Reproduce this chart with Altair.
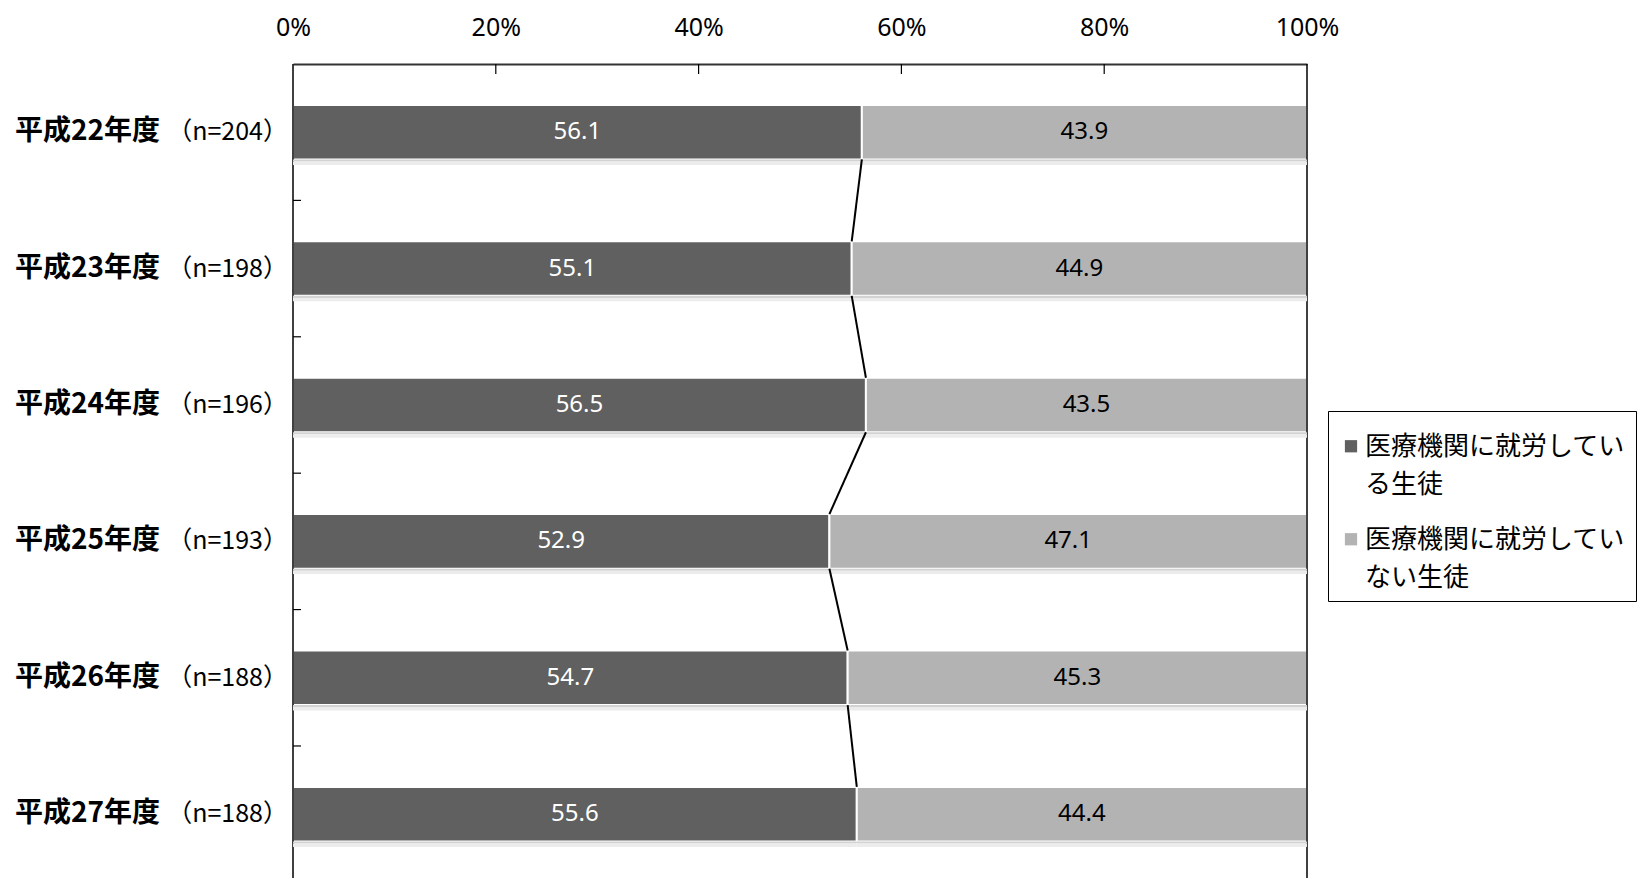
import altair as alt
import pandas as pd

categories = ["平成22年度", "平成23年度", "平成24年度", "平成25年度", "平成26年度", "平成27年度"]
n_labels = ["（n=204）", "（n=198）", "（n=196）", "（n=193）", "（n=188）", "（n=188）"]
working = [56.1, 55.1, 56.5, 52.9, 54.7, 55.6]
not_working = [43.9, 44.9, 43.5, 47.1, 45.3, 44.4]
series = ["医療機関に就労している生徒", "医療機関に就労していない生徒"]
x_ticks = [0, 20, 40, 60, 80, 100]

CJK = "Noto Sans CJK JP"
NUM = "Noto Sans"

rows = []
for i, c in enumerate(categories):
    rows.append(dict(cat=c, idx=i, series=series[0], sid=0, start=0, end=working[i], val=working[i]))
    rows.append(dict(cat=c, idx=i, series=series[1], sid=1, start=working[i], end=working[i] + not_working[i], val=not_working[i]))
bars_df = pd.DataFrame(rows)
bars_df["mid"] = (bars_df["start"] + bars_df["end"]) / 2

cat_df = pd.DataFrame(dict(cat=categories, n=n_labels, idx=list(range(len(categories)))))

conn_df = pd.DataFrame(dict(idx=list(range(len(working) - 1)), x=working[:-1], x2=working[1:]))

YMAX = 5.968
yscale = alt.Scale(domain=[0, YMAX], reverse=True, nice=False, zero=False)
xscale = alt.Scale(domain=[0, 100], nice=False)

base_bars = alt.Chart(bars_df).transform_calculate(
    ytop="datum.idx + 0.3", ybot="datum.idx + 0.7",
    sh1="datum.idx + 0.715", sh2="datum.idx + 0.74", yc="datum.idx + 0.5"
)

shadow1 = base_bars.mark_rect(color="#d2d2d2").encode(
    x=alt.X("start:Q", scale=xscale), x2="end:Q",
    y=alt.Y("ybot:Q", scale=yscale), y2="sh1:Q",
)
shadow2 = base_bars.mark_rect(color="#ececec").encode(
    x=alt.X("start:Q", scale=xscale), x2="end:Q",
    y=alt.Y("sh1:Q", scale=yscale), y2="sh2:Q",
)

legend_label_expr = (
    "datum.label == '医療機関に就労している生徒' ? ['医療機関に就労してい', 'る生徒'] "
    ": ['医療機関に就労してい', 'ない生徒']"
)

bars = base_bars.mark_rect(stroke="white", strokeWidth=2).encode(
    x=alt.X("start:Q", scale=xscale,
            axis=alt.Axis(orient="top", values=x_ticks, labelExpr="datum.value + '%'",
                          ticks=False, grid=False, domain=True, domainColor="#333333", domainWidth=2,
                          labelFont=NUM, labelFontSize=25, labelColor="black", labelPadding=24,
                          labelFlush=False, labelOverlap=False, title=None)),
    x2="end:Q",
    y=alt.Y("ytop:Q", scale=yscale, axis=None),
    y2="ybot:Q",
    color=alt.Color("series:N", scale=alt.Scale(domain=series, range=["#606060", "#b3b3b3"]),
                    legend=alt.Legend(
                        title=None, orient="none", legendX=1035, legendY=347,
                        symbolType="M-1,1H1V3H-1Z", symbolSize=150, symbolStrokeWidth=0,
                        labelFont=CJK, labelFontSize=26, labelColor="black", labelLimit=400,
                        labelExpr=legend_label_expr,
                        labelBaseline="top", labelOffset=1,
                        strokeColor="black", fillColor="white", padding=10, rowPadding=16,
                    )),
)

text_white = base_bars.transform_filter("datum.sid == 0").mark_text(
    font=NUM, fontSize=24, baseline="middle", align="center", color="white"
).encode(
    x=alt.X("mid:Q", scale=xscale),
    y=alt.Y("yc:Q", scale=yscale),
    text=alt.Text("val:Q", format=".1f"),
)
text_black = base_bars.transform_filter("datum.sid == 1").mark_text(
    font=NUM, fontSize=24, baseline="middle", align="center", color="black"
).encode(
    x=alt.X("mid:Q", scale=xscale),
    y=alt.Y("yc:Q", scale=yscale),
    text=alt.Text("val:Q", format=".1f"),
)

conn = alt.Chart(conn_df).transform_calculate(
    ya="datum.idx + 0.7", yb="datum.idx + 1.3"
).mark_rule(color="black", strokeWidth=2).encode(
    x=alt.X("x:Q", scale=xscale), x2="x2:Q",
    y=alt.Y("ya:Q", scale=yscale), y2="yb:Q",
)

cat_base = alt.Chart(cat_df).transform_calculate(yc="datum.idx + 0.5")
cat_text = cat_base.mark_text(font=CJK, fontSize=28, fontWeight="bold", align="left",
                              baseline="middle", color="black").encode(
    x=alt.value(-278), y=alt.Y("yc:Q", scale=yscale), text="cat:N")
n_text = cat_base.mark_text(font=CJK, fontSize=25, align="right",
                            baseline="middle", color="black").encode(
    x=alt.value(-5), y=alt.Y("yc:Q", scale=yscale), text="n:N")

frame_df = pd.DataFrame(dict(x=[0, 100]))
frame = alt.Chart(frame_df).mark_rule(color="black", strokeWidth=1.5).encode(
    x=alt.X("x:Q", scale=xscale), y=alt.value(0), y2=alt.value(900))

left_ticks_df = pd.DataFrame(dict(b=[1, 2, 3, 4, 5]))
left_ticks = alt.Chart(left_ticks_df).mark_rule(color="black", strokeWidth=1.2).encode(
    y=alt.Y("b:Q", scale=yscale), x=alt.value(0), x2=alt.value(8))

top_ticks_df = pd.DataFrame(dict(t=x_ticks[1:-1]))
top_ticks = alt.Chart(top_ticks_df).mark_rule(color="black", strokeWidth=1.2).encode(
    x=alt.X("t:Q", scale=xscale), y=alt.value(0), y2=alt.value(10))

chart = alt.layer(
    bars, frame, left_ticks, top_ticks, shadow1, shadow2, text_white, text_black, conn, cat_text, n_text
).properties(
    width=1014, height=814,
    padding={"left": 285, "top": 56, "right": 330, "bottom": 0},
    autosize=alt.AutoSizeParams(type="none"),
).configure(
    style={"guide-label": {"lineHeight": 38}},
).configure_view(stroke=None)

chart.save("out.html", embed_options={"renderer": "svg", "actions": False})
